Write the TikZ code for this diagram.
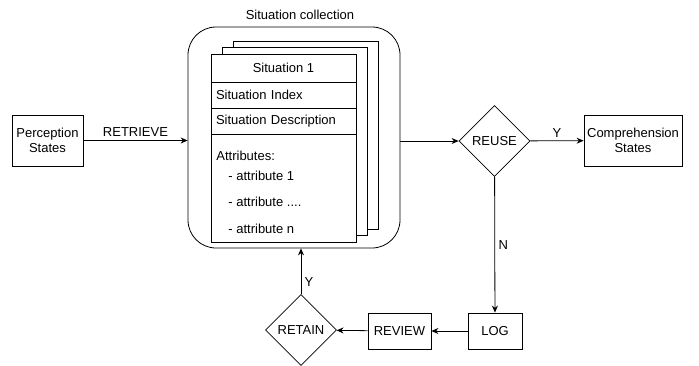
\documentclass[tikz,border=0pt]{standalone}
\usepackage{fontspec}
\setmainfont{Liberation Sans}
\usetikzlibrary{positioning,shapes.geometric,arrows.meta}

\begin{document}
\begin{tikzpicture}[x=1pt,y=-1pt,line width=0.8pt,>={Stealth[length=7pt,width=6pt]},
  font=\fontsize{13}{15}\selectfont,
  box/.style={draw,rectangle,align=center,inner sep=1pt,minimum height=36pt},
  choice/.style={draw,diamond,aspect=1,inner sep=0pt,minimum width=71pt,minimum height=71pt},
  sheet/.style={draw,fill=white,minimum width=145pt,minimum height=188pt,inner sep=0pt},
  row/.style={draw,fill=white,minimum width=145pt,inner sep=0pt,outer sep=0pt},
  leftrow/.style={row,text width=135pt,align=left,inner xsep=5pt},
  item/.style={anchor=west,inner sep=0pt}]
\useasboundingbox (0,0) rectangle (699,365);

% the collection and its stack of situations
\node[draw,rounded corners=28pt,minimum width=212pt,minimum height=221pt] (coll) at (294,137.5) {};
\node (title) at (300,15) {Situation collection};
\foreach \k in {2,1}
  \node[sheet] (sheet\k) at (283.5+11*\k,148-6.5*\k) {};
\node[row,minimum height=28pt] (head) at (283.5,68) {Situation 1};
\node[leftrow,minimum height=26pt,below=0pt of head] (index) {Situation Index};
\node[leftrow,minimum height=26pt,below=0pt of index] (desc) {Situation Description};
\node[row,minimum height=108pt,below=0pt of desc] (attrs) {};
\node[item] (attrhead) at (216,156) {Attributes:};
\node[item] (attr1) at (228,176) {- attribute 1};
\node[item] (attrdots) at (228,202) {- attribute ....};
\node[item] (attrn) at (228,229) {- attribute n};

% states and decisions
\node[box,minimum width=71pt,minimum height=51pt] (perc) at (47.5,140.5) {Perception\\States};
\node[choice] (reuse) at (494.5,141) {REUSE};
\node[box,minimum width=98pt,minimum height=51pt] (comp) at (633,140.5) {Comprehension\\States};
\node[box,minimum width=54pt] (log) at (495,331) {LOG};
\node[box,minimum width=63pt] (review) at (399.5,331) {REVIEW};
\node[choice] (retain) at (301,330) {RETAIN};

\draw[->] (perc.east) -- node[above] {RETRIEVE} (perc.east -| coll.west);
\draw[->] (reuse.west -| coll.east) -- (reuse.west);
\draw[->] (reuse) -- node[above] {Y} (comp);
\draw[->] (reuse) -- node[right,pos=0.5] {N} (log);
\draw[->] (log) -- (review);
\draw[->] (review) -- (retain);
\draw[->] (retain) -- node[right,pos=0.27] {Y} (retain |- coll.south);
\end{tikzpicture}
\end{document}
